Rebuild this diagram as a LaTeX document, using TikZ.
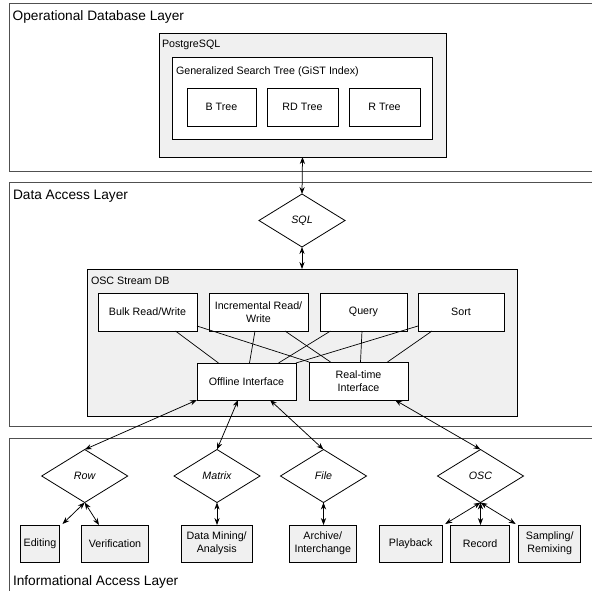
\documentclass[tikz,border=0pt]{standalone}
\usepackage{fontspec}
\setmainfont{Liberation Sans}
\usetikzlibrary{shapes.geometric,arrows.meta,calc}
\definecolor{panel}{RGB}{240,240,240}
\definecolor{layerline}{RGB}{80,80,80}

\begin{document}
\begin{tikzpicture}[x=1pt,y=-1pt,
  every node/.style={font=\fontsize{10.7}{13.3}\selectfont, inner sep=0pt, outer sep=0pt},
  layer/.style={draw=layerline, line width=0.9pt, fill=white, rectangle, anchor=north west, minimum width=600pt},
  container/.style={draw=black, line width=0.8pt, rectangle},
  box/.style={draw=black, line width=0.8pt, fill=white, rectangle, align=center, minimum height=38pt},
  leaf/.style={box, fill=panel, minimum height=37pt},
  choice/.style={draw=black, line width=0.8pt, fill=white, diamond, minimum width=86pt, minimum height=53pt,
    font=\fontsize{10.7}{13.3}\selectfont\itshape},
  title/.style={anchor=base west, font=\fontsize{13.7}{16}\selectfont},
  caption/.style={anchor=base west},
  link/.style={line width=0.7pt},
  flow/.style={line width=0.75pt, {Stealth[length=7pt,width=5.2pt]}-{Stealth[length=7pt,width=5.2pt]}},
]
\clip (0,0) rectangle (592,590);

% ---------- Operational Database Layer ----------
\node[layer, minimum height=168pt] (opl) at (9,3) {};
\node[title] (opltitle) at (12.7,20) {Operational Database Layer};
\node[container, fill=panel, minimum width=287pt, minimum height=124pt] (pg) at (302.5,95) {};
\node[caption] (pgtitle) at (162,47.5) {PostgreSQL};
\node[container, fill=white, minimum width=260pt, minimum height=82pt] (gist) at (302,98) {};
\node[caption] (gisttitle) at (176,74) {Generalized Search Tree (GiST Index)};
\node[box, minimum width=69pt] (btree) at (221.5,107) {B Tree};
\node[box, minimum width=71pt] (rdtree) at (302.5,107) {RD Tree};
\node[box, minimum width=71pt] (rtree) at (384.5,107) {R Tree};

% ---------- Data Access Layer ----------
\node[layer, minimum height=244pt] (dal) at (9,182) {};
\node[title] (daltitle) at (13,199.5) {Data Access Layer};
\node[choice] (sql) at (302,220.5) {SQL};
\node[container, fill=panel, minimum width=430pt, minimum height=147pt] (osc) at (302,342.5) {};
\node[caption] (osctitle) at (91,284) {OSC Stream DB};
\node[box, minimum width=99pt] (bulk) at (147.5,312) {Bulk Read/Write};
\node[box, minimum width=99pt] (incr) at (258.5,312) {Incremental Read/\\Write};
\node[box, minimum width=87pt] (query) at (363.5,312) {Query};
\node[box, minimum width=86pt] (sort) at (461,312) {Sort};
\node[box, minimum width=99pt, minimum height=37pt] (off) at (246.5,381.5) {Offline Interface};
\node[box, minimum width=99pt] (rt) at (358.5,381) {Real-time\\Interface};

\draw[flow] (pg.south) -- (sql.north);
\draw[flow] (sql.south) -- (osc.north);

\draw[link] ($(bulk.south)+(28,0)$) -- ($(off.north)+(-28,0)$);
\draw[link] ($(bulk.east)+(0,14)$) -- (rt.north west);
\draw[link] ($(incr.south)+(-3.5,0)$) -- ($(off.north)+(3,0)$);
\draw[link] ($(incr.south)+(26.5,0)$) -- ($(rt.north)+(-28,0)$);
\draw[link] ($(query.south)+(-33,0)$) -- ($(off.north)+(32,0)$);
\draw[link] ($(query.south)+(-1.5,0)$) -- ($(rt.north)+(2,0)$);
\draw[link] ($(sort.west)+(0,14)$) -- (off.north east);
\draw[link] ($(sort.south)+(-29,0)$) -- ($(rt.north)+(29,0)$);

% ---------- Informational Access Layer ----------
\node[layer, minimum height=200pt] (ial) at (9,438) {};
\node[title] (ialtitle) at (13,585) {Informational Access Layer};
\node[choice] (row) at (84.7,476) {Row};
\node[choice] (matrix) at (217,476) {Matrix};
\node[choice] (file) at (323.5,476) {File};
\node[choice] (oscfmt) at (480.5,476) {OSC};

\node[leaf, minimum width=39pt] (edit) at (40,543.5) {Editing};
\node[leaf, minimum width=67pt] (verif) at (115,543.5) {Verification};
\node[leaf, minimum width=71pt] (mining) at (216.7,543.5) {Data Mining/\\Analysis};
\node[leaf, minimum width=67pt] (archive) at (322.8,543.5) {Archive/\\Interchange};
\node[leaf, minimum width=63pt] (play) at (410.7,543.5) {Playback};
\node[leaf, minimum width=59pt] (record) at (480.2,543.5) {Record};
\node[leaf, minimum width=62pt] (sampling) at (549.7,543.5) {Sampling/\\Remixing};

% access paths into the stream database
\draw[flow] (off.south west) -- (row.north);
\draw[flow] ($(off.south)+(-8.5,0)$) -- (matrix.north);
\draw[flow] ($(off.south)+(23.5,0)$) -- (file.north);
\draw[flow] ($(rt.south)+(36.5,0)$) -- (oscfmt.north);

% applications served by each format
\draw[flow] (row.south) -- ($(edit.north east)+(3,-1)$);
\draw[flow] (row.south) -- ($(verif.north)+(-16,0)$);
\draw[flow] (matrix.south) -- (matrix.south |- mining.north);
\draw[flow] (file.south) -- (file.south |- archive.north);
\draw[flow] (oscfmt.south) -- ($(play.north east)+(3,-1)$);
\draw[flow] (oscfmt.south) -- (oscfmt.south |- record.north);
\draw[flow] (oscfmt.south) -- ($(sampling.north west)+(-3,-1)$);
\end{tikzpicture}
\end{document}
